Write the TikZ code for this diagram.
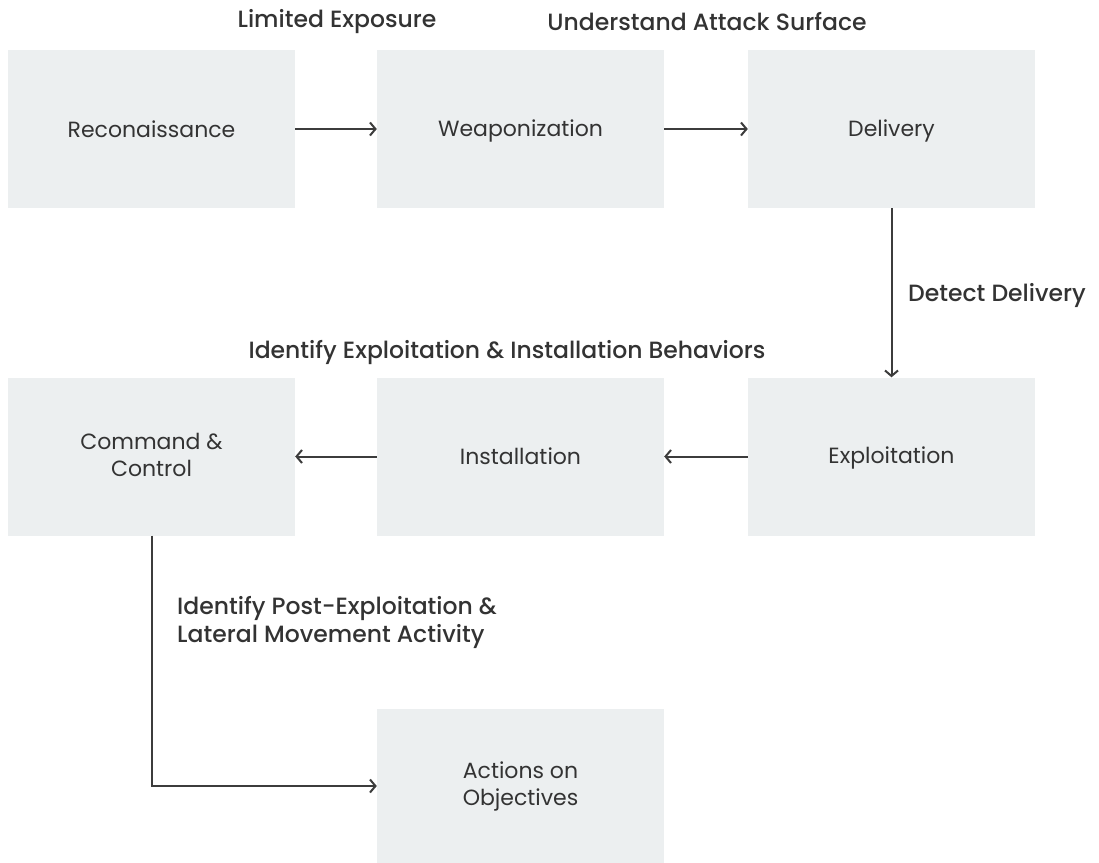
\documentclass[tikz,border=0pt]{standalone}
\usepackage{fontspec}
\setmainfont{Poppins}
\newfontfamily\notefont{Poppins Medium}
\usetikzlibrary{arrows.meta}
\definecolor{boxfill}{HTML}{ECEFF0}
\definecolor{ink}{HTML}{333333}
\definecolor{wire}{HTML}{3C3C3C}
\begin{document}
\begin{tikzpicture}[x=1pt,y=-1pt,
    stage/.style={fill=boxfill,draw=none,minimum width=287pt,minimum height=158pt,
        text=ink,align=center,font=\fontsize{22}{27}\selectfont,inner sep=0pt,
        execute at begin node=\rule{0pt}{20pt},
        execute at end node=\rule[-4pt]{0pt}{4pt}},
    note/.style={text=ink,font=\notefont\fontsize{23.5}{28}\selectfont,inner sep=0pt},
    link/.style={draw=wire,line width=2pt,-{Straight Barb[length=5.5pt,width=13pt,line width=2pt]}}]
            \useasboundingbox[fill=white] (0,0) rectangle (1099,862);
            \node[stage] (Rec) at(151.5,129) {Reconaissance};
            \node[stage] (Weap) at(520.5,129) {Weaponization};
            \node[stage] (Del) at(891.5,129) {Delivery};
            \node[stage] (Expl) at(891.5,456.5) {Exploitation};
            \node[stage] (Inst) at(520.5,456.5) {Installation};
            \node[stage] (CC) at(151.5,456.5) {Command \&\\Control};
            \node[stage,minimum height=154pt] (Act) at(520.5,786) {Actions on\\Objectives};
            \draw[link] (Rec) -- (Weap);
            \draw[link] (Weap) -- (Del);
            \draw[link] (Del) -- (Expl);
            \draw[link] (Expl) -- (Inst);
            \draw[link] (Inst) -- (CC);
            \draw[link] (CC.south) |- (Act.west);
            \node[note] (L1) at(337,22) {Limited Exposure};
            \node[note] (L2) at(707,22) {Understand Attack Surface};
            \node[note,anchor=west] (L3) at(908,295) {Detect Delivery};
            \node[note] (L4) at(507,353) {Identify Exploitation \& Installation Behaviors};
            \node[note,anchor=west,align=left] (L5) at(177,622) {Identify Post-Exploitation \&\\Lateral Movement Activity};
        \end{tikzpicture}
\end{document}
